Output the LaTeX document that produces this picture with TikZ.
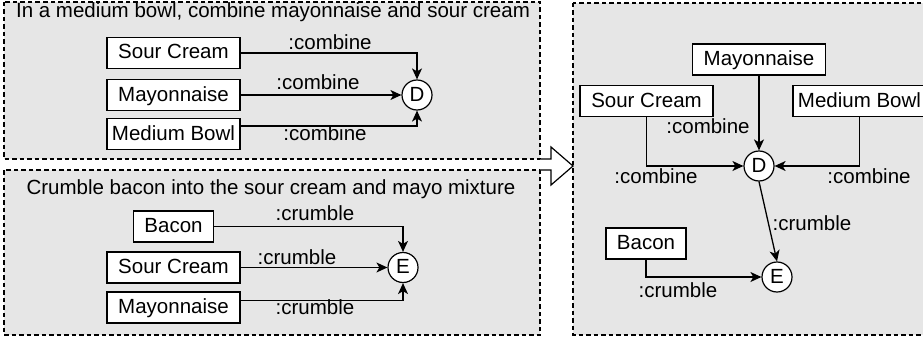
\documentclass[tikz,border=0pt]{standalone}
\usepackage{fontspec}
\setmainfont{Liberation Sans}
\usetikzlibrary{arrows.meta}
\definecolor{panelgray}{HTML}{E6E6E6}
\begin{document}
\begin{tikzpicture}[x=1pt,y=-1pt,
  every node/.style={font=\fontsize{20.5}{24}\selectfont, text height=15pt, text depth=3pt, inner sep=0pt},
  panel/.style={draw, dash pattern=on 4.5pt off 3pt, fill=panelgray, line width=1.1pt},
  box/.style={draw, fill=white, line width=1.2pt, minimum height=31pt, minimum width=133pt},
  smallbox/.style={box, minimum width=80pt},
  state/.style={circle, draw, fill=white, line width=1.2pt, minimum size=30pt},
  edge/.style={line width=1.3pt, -{Stealth[length=11pt,width=10pt,inset=3pt]}},
  blockarrow/.style={draw, fill=white, line width=1.2pt, line join=miter}]
\useasboundingbox (0,0) rectangle (923,337);
\clip (0,0) rectangle (923,337);

% panels
\path[panel] (4,2) rectangle (540,159);
\path[panel] (4,170) rectangle (540,335);
\path[panel] (573,3) rectangle (940,335);

% block arrow
\coordinate (ba0) at (540,159);
\coordinate (ba6) at (540,170);
\path[blockarrow] (ba0) -- (551,159) -- (551,147) -- (573,166) -- (551,185) -- (551,170) -- (ba6);

% titles
\node (t1) at (273,12) {In a medium bowl, combine mayonnaise and sour cream};
\node (t2) at (271,188) {Crumble bacon into the sour cream and mayo mixture};

% panel 1
\node[box] (sc1) at (173.5,53) {Sour Cream};
\node[box] (my1) at (173.5,95) {Mayonnaise};
\node[box] (mb1) at (173.5,134) {Medium Bowl};
\node[state] (D1) at (417,95) {D};
\draw[edge] (sc1.east) -| (D1.north);
\draw[edge] (my1.east) -- (D1.west);
\draw[edge] ([yshift=8pt]mb1.east) -| (D1.south);
\node (c1) at (330,44) {:combine};
\node (c2) at (318,83) {:combine};
\node (c3) at (325,134) {:combine};

% panel 2
\node[smallbox] (ba2) at (173.5,226.5) {Bacon};
\node[box] (sc2) at (173.5,267.5) {Sour Cream};
\node[box] (my2) at (173.5,307.5) {Mayonnaise};
\node[state] (E2) at (403,267.5) {E};
\draw[edge] (ba2.east) -| (E2.north);
\draw[edge] (sc2.east) -- (E2.west);
\draw[edge] ([yshift=7pt]my2.east) -| (E2.south);
\node (k1) at (315,214) {:crumble};
\node (k2) at (297,258) {:crumble};
\node (k3) at (315,308) {:crumble};

% panel 3
\node[box] (my3) at (759,59.5) {Mayonnaise};
\node[box] (sc3) at (646.5,101) {Sour Cream};
\node[box] (mb3) at (859.5,101) {Medium Bowl};
\node[state] (D3) at (759,166) {D};
\node[state] (E3) at (777,277) {E};
\node[smallbox] (ba3) at (646,243.5) {Bacon};
\draw[edge] (my3.south) -- (D3.north);
\draw[edge] (sc3.south) |- (D3.west);
\draw[edge] (mb3.south) |- (D3.east);
\draw[edge] (D3.south) -- (E3.north);
\draw[edge] (ba3.south) |- (E3.west);
\node (p1) at (708,127) {:combine};
\node (p2) at (656,177) {:combine};
\node (p3) at (869,177) {:combine};
\node (p4) at (812,224) {:crumble};
\node (p5) at (678,291.5) {:crumble};
\end{tikzpicture}
\end{document}
